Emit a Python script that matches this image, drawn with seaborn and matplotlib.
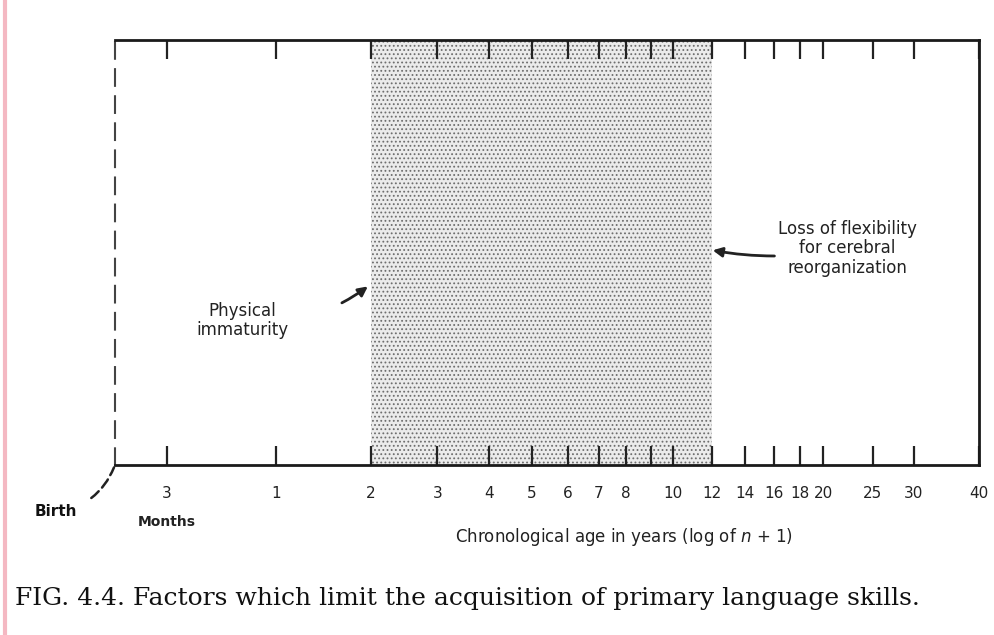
import numpy as np
import matplotlib.pyplot as plt
import seaborn as sns
from matplotlib.lines import Line2D

# ages in years at which the axis is ticked (log of n + 1 scale)
tick_years = [0.25, 1, 2, 3, 4, 5, 6, 7, 8, 9, 10, 12, 14, 16, 18, 20, 25, 30, 40]
tick_labels = ["3", "1", "2", "3", "4", "5", "6", "7", "8", "", "10", "12",
               "14", "16", "18", "20", "25", "30", "40"]
max_age = 40

# critical period for primary language acquisition
critical_start = 2
critical_end = 12

physical_text = "Physical\nimmaturity"
loss_text = "Loss of flexibility\nfor cerebral\nreorganization"
xlabel_text = "Chronological age in years (log of $n$ + 1)"
caption_text = "FIG. 4.4. Factors which limit the acquisition of primary language skills."


def to_log(n):
    return np.log10(np.asarray(n, dtype=float) + 1)


sns.set_style("white")
plt.rcParams["font.family"] = ["DejaVu Sans"]
plt.rcParams["hatch.linewidth"] = 0.8

fig = plt.figure(figsize=(9.94, 6.35), dpi=100)
ax = fig.add_axes([0.1157, 0.268, 0.869, 0.669])

# stippled band
ax.axvspan(to_log(critical_start), to_log(critical_end), facecolor="#ebebeb",
           edgecolor="#6e6e6e", linewidth=0, hatch="....", zorder=0)

ax.set_xlim(0, to_log(max_age))
ax.set_ylim(0, 1)
ax.set_yticks([])
ax.set_xticks(to_log(tick_years))
ax.set_xticklabels(tick_labels, fontsize=11, color="#222222")
ax.tick_params(axis="x", direction="in", top=True, bottom=True, length=14,
               width=1.6, color="#222222", pad=15)

for side in ["top", "bottom", "right"]:
    ax.spines[side].set_linewidth(2)
    ax.spines[side].set_color("#1a1a1a")
ax.spines["left"].set_linewidth(1.5)
ax.spines["left"].set_color("#444444")
ax.spines["left"].set_linestyle((0, (8, 5)))

ax.text(to_log(0.25), -0.135, "Months", ha="center", va="center",
        fontsize=10, fontweight="bold", color="#222222")
ax.text(0.951, -0.17, xlabel_text, ha="center", va="center",
        fontsize=12, color="#222222")

ax.annotate(physical_text, xy=(to_log(critical_start) - 0.005, 0.42),
            xytext=(0.238, 0.34), ha="center", va="center", fontsize=12,
            color="#222222", linespacing=1.1,
            arrowprops=dict(arrowstyle="-|>", color="#222222", lw=2,
                            connectionstyle="arc3,rad=0.2",
                            shrinkA=38, shrinkB=0, mutation_scale=14))
ax.annotate(loss_text, xy=(to_log(critical_end) + 0.002, 0.505),
            xytext=(1.367, 0.51), ha="center", va="center", fontsize=12,
            color="#222222", linespacing=1.1,
            arrowprops=dict(arrowstyle="-|>", color="#222222", lw=2,
                            connectionstyle="arc3,rad=-0.1",
                            shrinkA=70, shrinkB=0, mutation_scale=14))

# birth marker at the origin
ax.annotate("Birth", xy=(0, 0), xytext=(-0.11, -0.11), xycoords="data",
            textcoords="data", ha="center", va="center", fontsize=11,
            fontweight="bold", color="#111111", annotation_clip=False,
            arrowprops=dict(arrowstyle="-", color="#222222", lw=1.8,
                            linestyle=(0, (4, 2)),
                            connectionstyle="arc3,rad=0.3",
                            shrinkA=9, shrinkB=2))

fig.text(0.015, 0.058, caption_text, ha="left", va="center", fontsize=18,
         family=["DejaVu Serif"], color="#111111")

# pink edge of the scanned page
fig.add_artist(Line2D([0.005, 0.005], [0, 1], color="#f4b8c2", lw=3,
                      transform=fig.transFigure))

fig.savefig("out.png", dpi=100)
